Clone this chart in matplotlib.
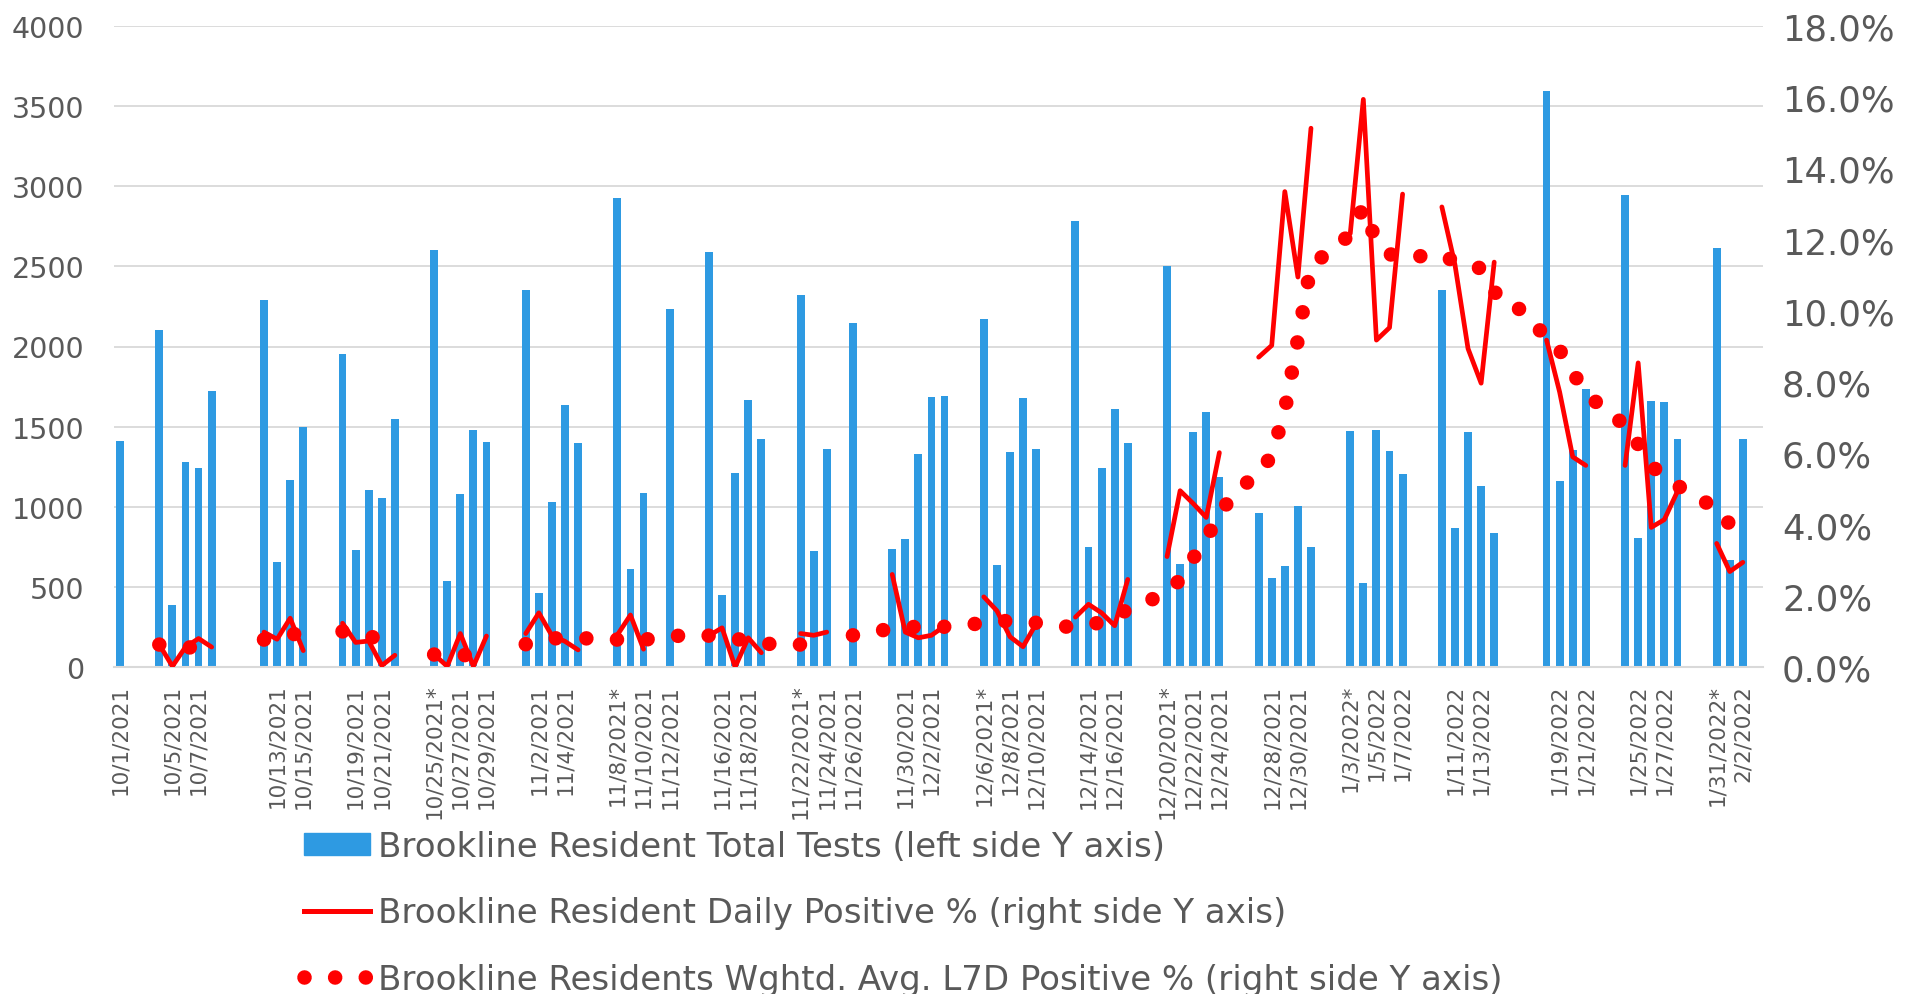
import numpy as np
import pandas as pd
import matplotlib
matplotlib.use("Agg")
import matplotlib.pyplot as plt
from matplotlib.lines import Line2D
from matplotlib.patches import Patch
from matplotlib.ticker import FuncFormatter

# category axis: one slot per calendar day (weekends / holidays left empty)
days = pd.date_range("2021-10-01", "2022-02-03")
holidays = pd.to_datetime(["2021-10-11", "2021-11-11", "2021-11-25", "2022-01-17"])
test_days = pd.bdate_range("2021-10-01", "2022-02-02").drop(holidays)
starred = ["2021-10-25", "2021-11-08", "2021-11-22", "2021-12-06",
           "2021-12-20", "2022-01-03", "2022-01-31"]

# total tests, one value per test day
tests = [1410,
         2100, 385, 1280, 1240, 1725,
         2290, 655, 1170, 1500,
         1955, 732, 1103, 1057, 1546,
         2605, 538, 1081, 1481, 1405,
         2354, 459, 1027, 1638, 1397,
         2924, 614, 1084, 2235,
         2592, 451, 1211, 1665, 1424,
         2322, 722, 1359, 2146,
         735, 797, 1332, 1686, 1688,
         2170, 635, 1343, 1681, 1362,
         2786, 749, 1241, 1611, 1395,
         2503, 643, 1468, 1589, 1184,
         959, 554, 630, 1005, 751,
         1470, 522, 1478, 1346, 1203,
         2351, 870, 1465, 1127, 835,
         3595, 1162, 1357, 1733,
         2943, 805, 1659, 1651, 1424,
         2614, 670, 1424]

# daily positive %, same test days (isolated days not readable -> None)
daily_pct = [None,
             0.63, 0.02, 0.56, 0.80, 0.56,
             0.98, 0.78, 1.37, 0.46,
             1.23, 0.69, 0.73, 0.04, 0.33,
             0.35, 0.02, 0.94, 0.02, 0.87,
             0.94, 1.52, 0.88, 0.72, 0.48,
             0.90, 1.46, 0.50, None,
             0.88, 1.10, 0.00, 0.82, 0.40,
             0.94, 0.89, 0.98, None,
             2.60, 0.98, 0.82, 0.89, 1.15,
             1.97, 1.58, 0.85, 0.57, 1.22,
             1.40, 1.76, 1.52, 1.16, 2.46,
             3.10, 4.95, 4.59, 4.20, 6.02,
             8.70, 9.03, 13.35, 10.95, 15.13,
             12.17, 15.94, 9.18, 9.53, 13.28,
             12.92, 11.30, 8.94, 7.97, 11.37,
             9.18, 7.72, 5.90, 5.66,
             5.66, 8.54, 3.92, 4.14, 4.93,
             3.47, 2.68, 2.94]

# weighted 7-day average positive %, every calendar day 10/4/2021 - 2/2/2022
l7d_pct = [0.63, 0.60, 0.56, 0.53, 0.52, None, None, None,
           0.77, 0.84, 0.91, 0.96, None, None,
           1.00, 0.94, 0.86, 0.78, 0.70, None, None,
           0.35, 0.34, 0.33, 0.34, 0.36, None, None,
           0.64, 0.74, 0.80, 0.82, 0.81, 0.80, 0.78,
           0.77, 0.77, 0.77, 0.80, 0.85, 0.89, 0.89,
           0.88, 0.84, 0.79, 0.74, 0.68, 0.63, 0.63,
           0.63, 0.63, 0.64, None,
           0.89, 0.95, 1.02, 1.07, 1.11, 1.13, 1.12, 1.13, 1.16, 1.20,
           1.23, 1.27, 1.30, 1.27, 1.24, 1.19, 1.14, 1.12, 1.18, 1.26,
           1.40, 1.62, 1.78, 1.92, 2.10, 2.45, 3.05, 3.62, 4.25, 4.85,
           5.15, 5.40, 5.95, 7.20, 9.20, 11.30, 11.55, 11.75, 12.20, 12.90,
           11.95, 11.60, 11.45, 11.50, 11.60, 11.55, 11.40, 11.25, 11.20, 10.55,
           10.10, 10.05, 9.75, 9.15, 8.90, 8.25, 7.75, 7.35, 7.00, 6.85,
           6.25, 5.65, 5.35, 5.10, 4.84, 4.65, 4.48, 4.00, 3.60]

BLUE = "#2E9AE2"
RED = "#FF0000"
GRID = "#D9D9D9"
TXT = "#595959"

tests_s = pd.Series(tests, index=test_days, dtype=float).reindex(days)
daily_s = pd.Series(daily_pct, index=test_days, dtype=float).reindex(days)
l7d_s = pd.Series(l7d_pct, index=pd.date_range("2021-10-04", "2022-02-02"),
                  dtype=float).reindex(days)

labels = []
for d in days:
    lab = f"{d.month}/{d.day}/{d.year}" if d in test_days else ""
    if d.strftime("%Y-%m-%d") in starred:
        lab += "*"
    labels.append(lab)

x = np.arange(len(days))

fig = plt.figure(figsize=(19.21, 9.95), dpi=100)
ax = fig.add_axes([113.5 / 1921, 327 / 995, 1649 / 1921, 641 / 995])
ax.bar(x, tests_s.values, width=0.6, color=BLUE, zorder=2)
ax.set_xlim(-0.5, len(days) - 0.5)
ax.set_ylim(0, 4000)
ax.set_yticks(range(0, 4001, 500))
ax.grid(axis="y", color=GRID, lw=1.3)
ax.set_axisbelow(True)
for s in ["top", "left", "right"]:
    ax.spines[s].set_visible(False)
ax.spines["bottom"].set_color(GRID)
ax.spines["bottom"].set_linewidth(1.5)
ax.tick_params(axis="y", length=0, pad=21, labelsize=20.5, labelcolor=TXT)
ax.set_xticks(x[::2])
ax.set_xticklabels(labels[::2], rotation=90, va="top", ha="center")
ax.tick_params(axis="x", length=0, pad=12, labelsize=15.5, labelcolor=TXT)

ax2 = ax.twinx()
ax2.set_ylim(0, 18)
ax2.set_yticks(range(0, 19, 2))
ax2.yaxis.set_major_formatter(FuncFormatter(lambda v, p: f"{v:.1f}%"))
ax2.tick_params(axis="y", length=0, pad=14, labelsize=25.5, labelcolor=TXT)
for s in ax2.spines.values():
    s.set_visible(False)

ax2.plot(x, daily_s.values, color=RED, lw=3.4,
         solid_joinstyle="round", solid_capstyle="round")
ax2.plot(x, l7d_s.values, color=RED, lw=10.5, ls=(0, (0.001, 2.1)),
         dash_capstyle="round")

handles = [Patch(color=BLUE),
           Line2D([], [], color=RED, lw=3.6),
           Line2D([], [], color=RED, lw=10.5, ls=(0, (0.001, 2.1)), dash_capstyle="round")]
names = ["Brookline Resident Total Tests (left side Y axis)",
         "Brookline Resident Daily Positive % (right side Y axis)",
         "Brookline Residents Wghtd. Avg. L7D Positive % (right side Y axis)"]
fig.legend(handles, names, loc="upper left", bbox_to_anchor=(304 / 1921, 1 - 831 / 995),
           frameon=False, fontsize=24.5, labelcolor=TXT, handlelength=1.94,
           handleheight=0.6, handletextpad=0.24, labelspacing=0.98,
           borderpad=0, borderaxespad=0)

fig.savefig("out.png", dpi=100)
